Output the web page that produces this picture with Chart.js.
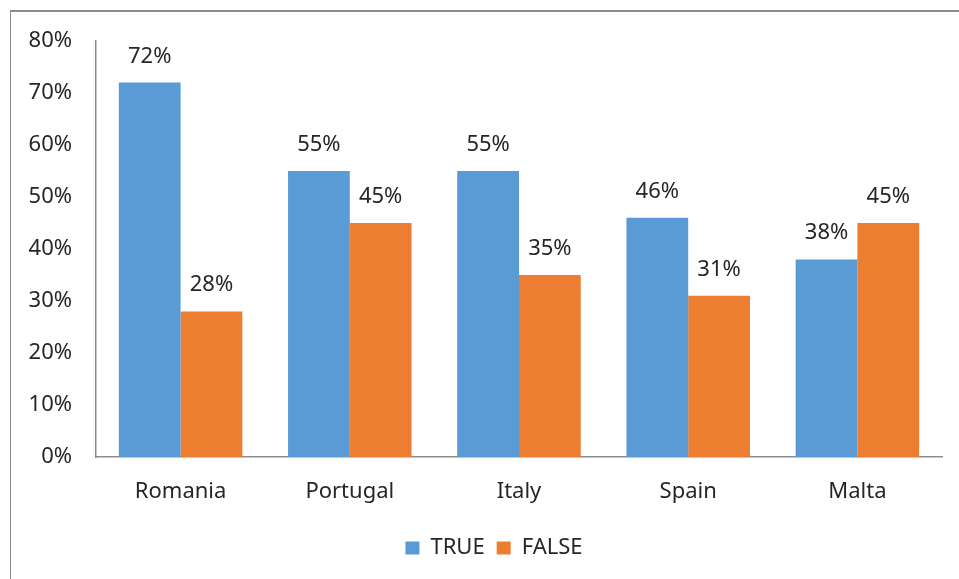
<!DOCTYPE html>
<html>
<head>
    <title>TRUE / FALSE by country</title>
    <script src="https://cdn.jsdelivr.net/npm/chart.js"></script>
    <style>
        body { margin: 0; background: #fff; }
        #frame { position: absolute; left: 10px; top: 10px; width: 949px; height: 569px;
                 border-left: 1px solid #8c8c8c; border-top: 2px solid #8c8c8c; box-sizing: border-box; }
        #wrap { position: absolute; left: 0; top: 0; width: 959px; height: 579px; }
    </style>
</head>
<body>
    <div id="frame"></div>
    <div id="wrap"><canvas id="barChart" width="959" height="579"></canvas></div>
    <script>
        const countries = ['Romania', 'Portugal', 'Italy', 'Spain', 'Malta'];
        const trueValues = [72, 55, 55, 46, 38];
        const falseValues = [28, 45, 35, 31, 45];
        const yTicks = [0, 10, 20, 30, 40, 50, 60, 70, 80];

        const FONT = '"Noto Sans", sans-serif';
        const SIZE = 22;

        // draw the percentage above each bar
        const barLabels = {
            id: 'barLabels',
            afterDatasetsDraw(chart) {
                const ctx = chart.ctx;
                ctx.save();
                ctx.font = SIZE + 'px ' + FONT;
                ctx.fillStyle = '#262626';
                ctx.textAlign = 'center';
                ctx.textBaseline = 'alphabetic';
                chart.data.datasets.forEach((ds, i) => {
                    chart.getDatasetMeta(i).data.forEach((bar, j) => {
                        ctx.fillText(ds.data[j] + '%', bar.x, bar.y - 20);
                    });
                });
                ctx.restore();
            }
        };

        // the legend sits a little right of the canvas centre in the original
        const legendShift = {
            id: 'legendShift',
            afterLayout(chart) {
                chart.legend.left += 18;
                chart.legend.right += 18;
            }
        };

        new Chart(document.getElementById('barChart'), {
            type: 'bar',
            data: {
                labels: countries,
                datasets: [
                    { label: 'TRUE', data: trueValues, backgroundColor: '#5b9bd5' },
                    { label: 'FALSE', data: falseValues, backgroundColor: '#ed7d31' }
                ]
            },
            options: {
                responsive: false,
                animation: false,
                layout: { padding: { left: 10, right: 17, top: 41, bottom: 10 } },
                datasets: { bar: { categoryPercentage: 0.73, barPercentage: 1.0 } },
                plugins: {
                    tooltip: { enabled: false },
                    legend: {
                        position: 'bottom',
                        labels: {
                            font: { family: FONT, size: SIZE },
                            color: '#262626',
                            boxWidth: 14,
                            boxHeight: 13,
                            padding: 12
                        }
                    }
                },
                scales: {
                    x: {
                        grid: { display: false, drawTicks: false },
                        border: { color: '#8c8c8c', width: 1.5 },
                        ticks: { font: { family: FONT, size: SIZE }, color: '#262626', padding: 22 },
                        afterFit(scale) { scale.height = 68; }
                    },
                    y: {
                        min: yTicks[0],
                        max: yTicks[yTicks.length - 1],
                        grid: { display: false, drawTicks: false },
                        border: { color: '#8c8c8c', width: 1.5 },
                        ticks: {
                            stepSize: yTicks[1] - yTicks[0],
                            font: { family: FONT, size: SIZE },
                            color: '#262626',
                            padding: 24,
                            callback: v => v + '%'
                        },
                        afterFit(scale) { scale.width = 86; }
                    }
                }
            },
            plugins: [barLabels, legendShift]
        });
    </script>
</body>
</html>
